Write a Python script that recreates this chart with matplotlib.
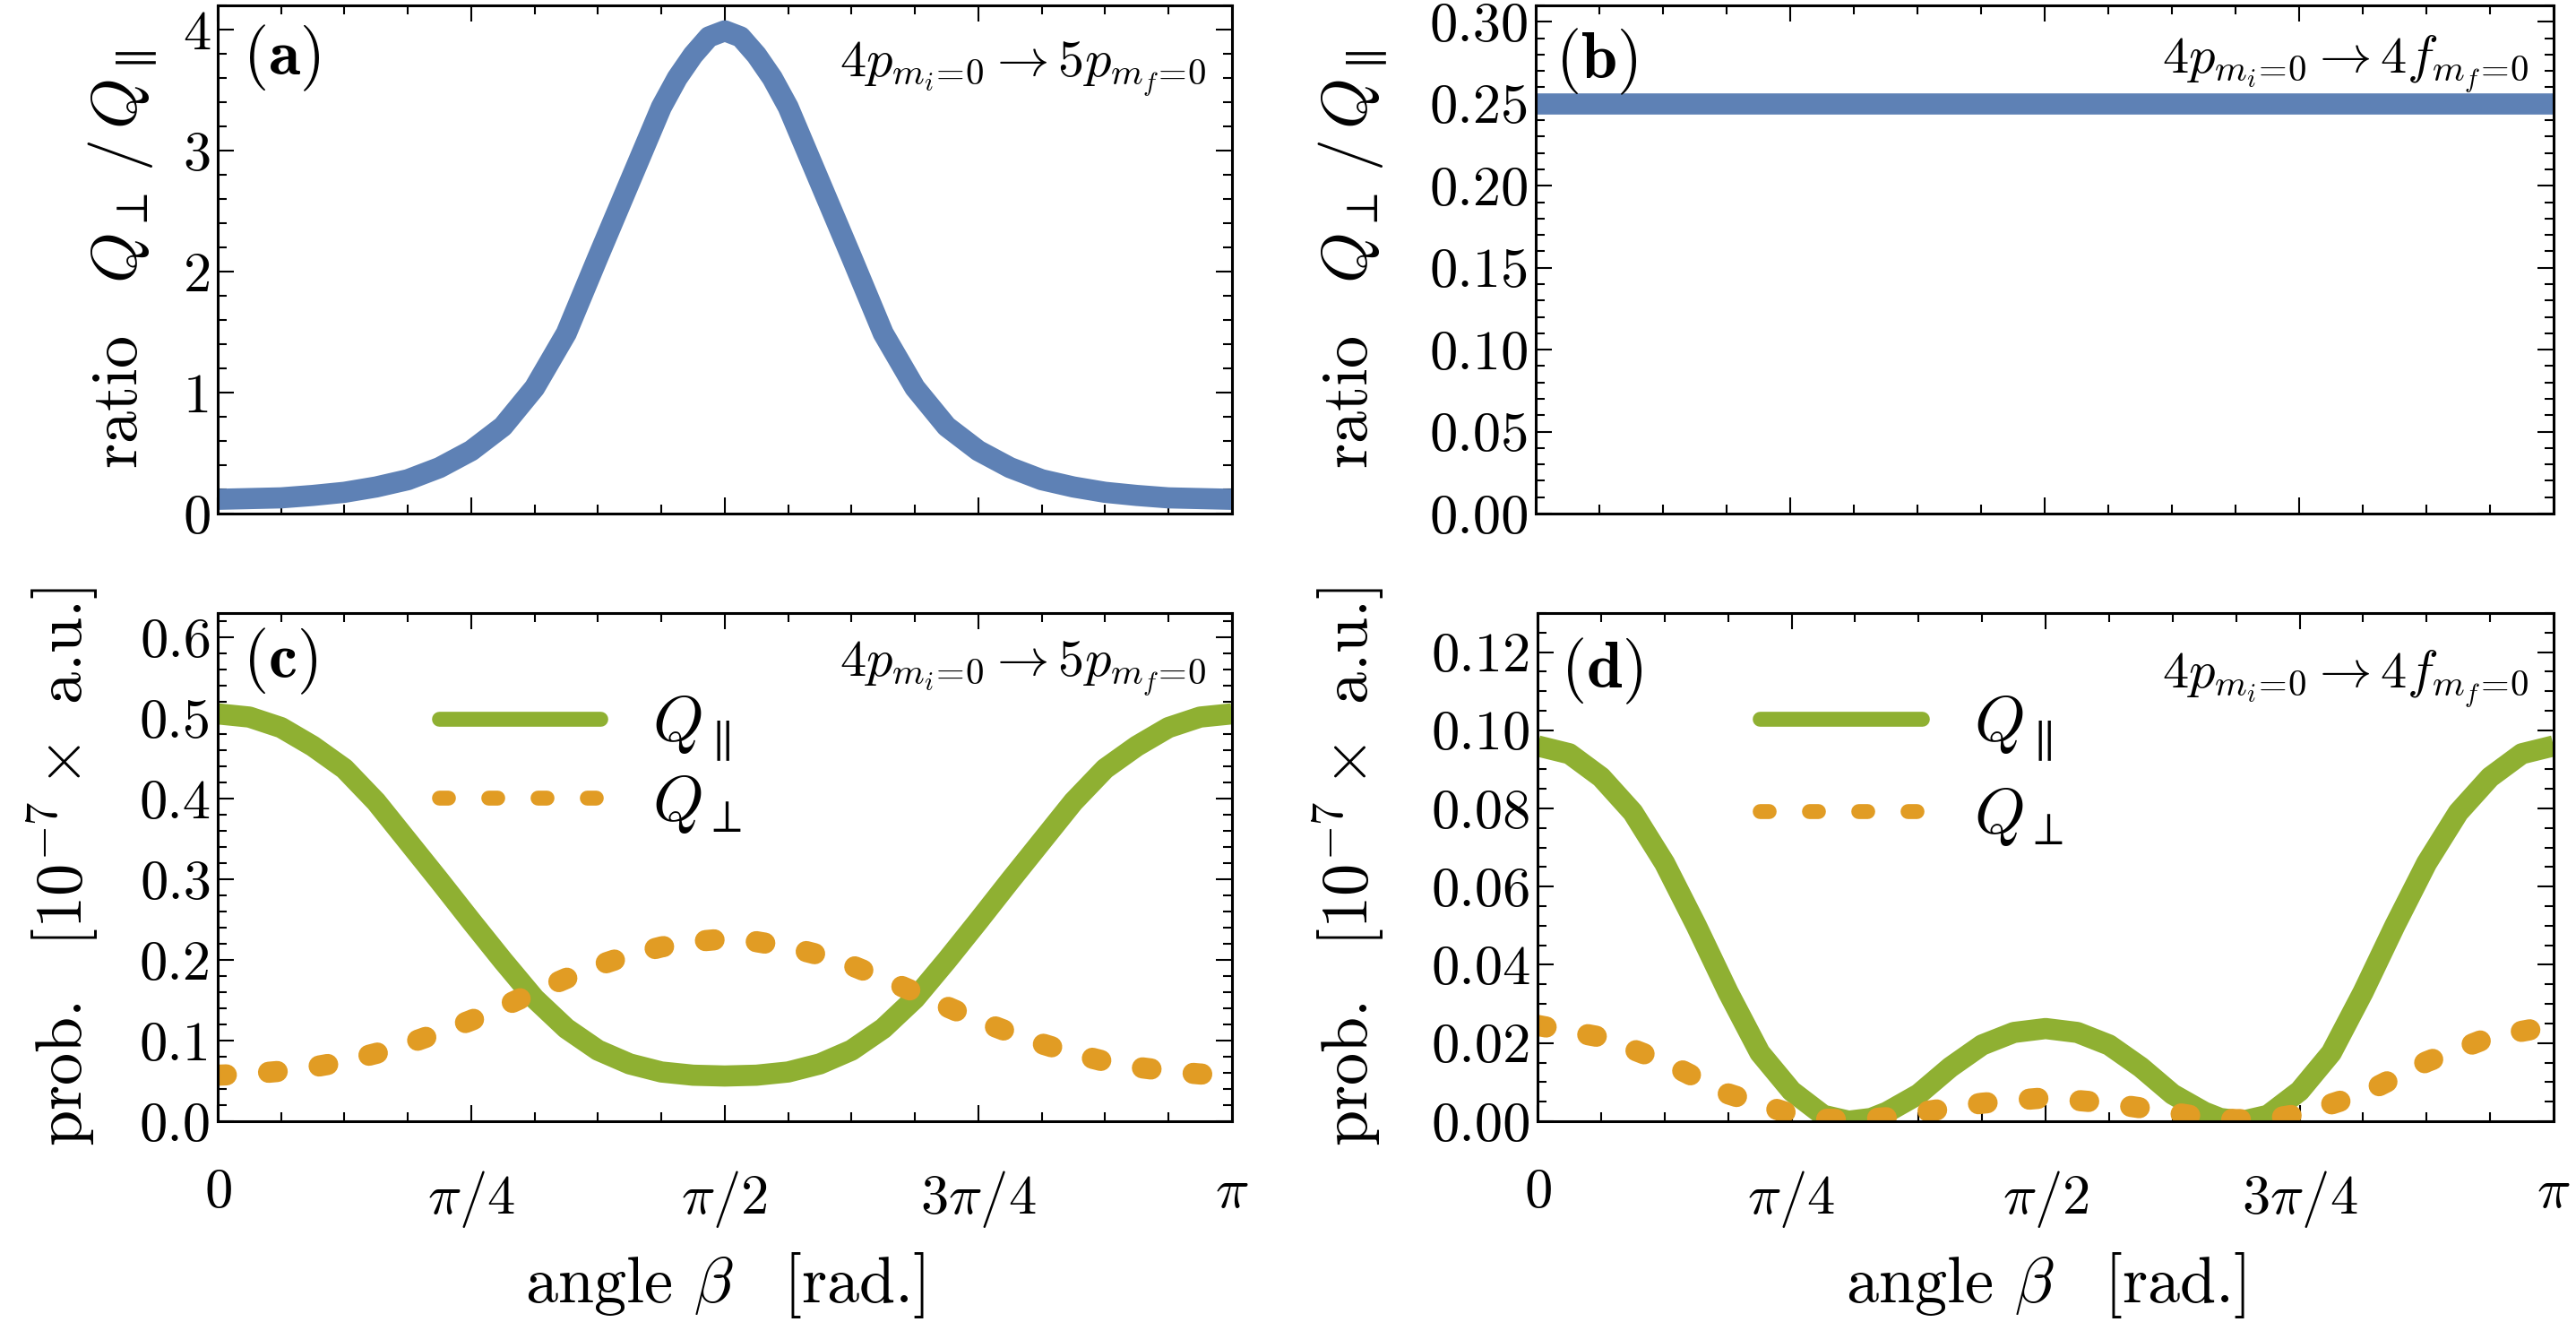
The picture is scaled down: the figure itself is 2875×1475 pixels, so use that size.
import numpy as np
import matplotlib.pyplot as plt
from matplotlib.lines import Line2D
from matplotlib.ticker import MultipleLocator, FixedLocator, FormatStrFormatter

plt.rcParams['font.family'] = 'serif'
plt.rcParams['font.serif'] = ['cmr10']
plt.rcParams['mathtext.fontset'] = 'cm'
plt.rcParams['axes.unicode_minus'] = False
plt.rcParams['axes.formatter.use_mathtext'] = True

BLUE = '#5E81B5'
ORANGE = '#E19C24'
GREEN = '#8FB032'

# angle beta in units of pi
# (a) ratio Q_perp / Q_par, 4p -> 5p
beta_a = [0, 1/16, 1.5/16, 2/16, 2.5/16, 3/16, 3.5/16, 4/16, 4.5/16, 5/16, 5.5/16,
          6/16, 6.5/16, 7/16, 7.25/16, 7.5/16, 7.75/16, 8/16,
          8.25/16, 8.5/16, 8.75/16, 9/16, 9.5/16, 10/16, 10.5/16, 11/16, 11.5/16,
          12/16, 12.5/16, 13/16, 13.5/16, 14/16, 14.5/16, 15/16, 1]
ratio_a = [0.118, 0.13, 0.15, 0.176, 0.22, 0.28, 0.38, 0.52, 0.72, 1.04, 1.49,
           2.12, 2.74, 3.36, 3.60, 3.79, 3.94, 3.99,
           3.94, 3.79, 3.60, 3.36, 2.74, 2.12, 1.49, 1.04, 0.72,
           0.52, 0.38, 0.28, 0.22, 0.176, 0.15, 0.13, 0.118]

# (b) ratio, 4p -> 4f
beta_b = [0, 1/4, 1/2, 3/4, 1]
ratio_b = [0.25, 0.25, 0.25, 0.25, 0.25]

# (c) probabilities, 4p -> 5p  [1e-7 a.u.]
beta_c = [0, 0.5/16, 1/16, 1.5/16, 2/16, 2.5/16, 3/16, 3.5/16, 4/16, 4.5/16,
          5/16, 5.5/16, 6/16, 6.5/16, 7/16, 7.5/16, 8/16,
          8.5/16, 9/16, 9.5/16, 10/16, 10.5/16, 11/16, 11.5/16, 12/16,
          12.5/16, 13/16, 13.5/16, 14/16, 14.5/16, 15/16, 15.5/16, 1]
q_par_c = [0.505, 0.501, 0.488, 0.465, 0.437, 0.396, 0.347, 0.298, 0.248, 0.199,
           0.152, 0.115, 0.088, 0.071, 0.061, 0.057, 0.056,
           0.057, 0.061, 0.071, 0.088, 0.115, 0.152, 0.199, 0.248,
           0.298, 0.347, 0.396, 0.437, 0.465, 0.488, 0.501, 0.505]
q_perp_c = [0.057, 0.0585, 0.062, 0.067, 0.074, 0.084, 0.096, 0.110, 0.125, 0.142,
            0.160, 0.177, 0.193, 0.206, 0.216, 0.2225, 0.226,
            0.2225, 0.216, 0.206, 0.193, 0.177, 0.160, 0.142, 0.125,
            0.110, 0.096, 0.084, 0.074, 0.067, 0.062, 0.0585, 0.057]

# (d) probabilities, 4p -> 4f  [1e-7 a.u.]
beta_d_par = [0, 0.5/16, 1/16, 1.5/16, 2/16, 2.5/16, 3/16, 3.5/16, 4/16, 4.5/16,
              4.9/16, 5.25/16, 5.5/16, 6/16, 6.5/16, 7/16, 7.5/16, 8/16,
              8.5/16, 9/16, 9.5/16, 10/16, 10.5/16, 10.75/16, 11.1/16, 11.5/16,
              12/16, 12.5/16, 13/16, 13.5/16, 14/16, 14.5/16, 15/16, 15.5/16, 1]
q_par_d = [0.096, 0.094, 0.088, 0.079, 0.066, 0.050, 0.033, 0.0175, 0.0077, 0.0015,
           0.0, 0.0007, 0.0023, 0.0069, 0.0138, 0.0195, 0.0227, 0.0237,
           0.0227, 0.0195, 0.0138, 0.0069, 0.0023, 0.0007, 0.0, 0.0015,
           0.0077, 0.0175, 0.033, 0.050, 0.066, 0.079, 0.088, 0.094, 0.096]
beta_d_perp = [0, 1/16, 2/16, 3/16, 4/16, 4.5/16, 5/16, 5.5/16, 6/16, 7/16, 8/16,
               9/16, 10/16, 10.5/16, 11/16, 11.5/16, 12/16, 13/16, 14/16, 15/16, 1]
q_perp_d = [0.0245, 0.0215, 0.0152, 0.007, 0.0018, 0.0005, 0.0004, 0.0009, 0.0022,
            0.0046, 0.006,
            0.0046, 0.0022, 0.0009, 0.0004, 0.0005, 0.0018, 0.007, 0.0152, 0.0215, 0.0245]

x_ticklabels = [r'$0$', r'$\pi/4$', r'$\pi/2$', r'$3\pi/4$', r'$\pi$']

LW = 17
DOTS = (0, (0.41, 2.0))
TICK_FS = 45
LABEL_FS = 52


def style_axes(ax, ylim, major, minor, fmt, show_x):
    ax.set_xlim(0, np.pi)
    ax.set_ylim(*ylim)
    ax.xaxis.set_major_locator(FixedLocator(np.pi * np.array([0, 0.25, 0.5, 0.75, 1])))
    ax.xaxis.set_minor_locator(MultipleLocator(np.pi / 16))
    ax.yaxis.set_major_locator(MultipleLocator(major))
    ax.yaxis.set_minor_locator(MultipleLocator(minor))
    ax.yaxis.set_major_formatter(FormatStrFormatter(fmt))
    if show_x:
        ax.set_xticklabels(x_ticklabels)
    else:
        ax.set_xticklabels([])
    ax.tick_params(which='both', direction='in', top=True, right=True,
                   width=1.5, labelsize=TICK_FS)
    ax.tick_params(which='major', length=13)
    ax.tick_params(which='minor', length=7.5)
    ax.tick_params(axis='y', pad=5)
    ax.tick_params(axis='x', pad=38)
    for s in ax.spines.values():
        s.set_linewidth(2.2)


fig = plt.figure(figsize=(28.75, 14.75), dpi=100)
ax_a = fig.add_axes([0.0845, 0.6115, 0.3937, 0.3844])
ax_b = fig.add_axes([0.5962, 0.6115, 0.3951, 0.3844])
ax_c = fig.add_axes([0.0845, 0.1519, 0.3937, 0.3844])
ax_d = fig.add_axes([0.5969, 0.1519, 0.3944, 0.3844])

# (a)
ax_a.plot(np.pi * np.array(beta_a), ratio_a, color=BLUE, lw=LW,
          solid_joinstyle='round', solid_capstyle='butt')
style_axes(ax_a, (0, 4.2), 1, 0.2, '%d', False)
ax_a.set_ylabel(r'ratio $\;\;Q_\perp\,/\,Q_\parallel$', fontsize=LABEL_FS)
ax_a.yaxis.set_label_coords(-0.057, 0.5)

# (b)
ax_b.plot(np.pi * np.array(beta_b), ratio_b, color=BLUE, lw=LW, solid_capstyle='butt')
style_axes(ax_b, (0, 0.31), 0.05, 0.01, '%.2f', False)
ax_b.set_ylabel(r'ratio $\;\;Q_\perp\,/\,Q_\parallel$', fontsize=LABEL_FS)
ax_b.yaxis.set_label_coords(-0.144, 0.5)

# (c)
ax_c.plot(np.pi * np.array(beta_c), q_par_c, color=GREEN, lw=LW,
          solid_joinstyle='round', solid_capstyle='butt')
ax_c.plot(np.pi * np.array(beta_c), q_perp_c, color=ORANGE, lw=LW,
          linestyle=DOTS, dash_capstyle='round', dash_joinstyle='round')
style_axes(ax_c, (0, 0.63), 0.1, 0.02, '%.1f', True)
ax_c.set_ylabel(r'prob. $\;\;[10^{-7}\times$ a.u.]', fontsize=LABEL_FS)
ax_c.yaxis.set_label_coords(-0.116, 0.5)

# (d)
ax_d.plot(np.pi * np.array(beta_d_par), q_par_d, color=GREEN, lw=LW,
          solid_joinstyle='round', solid_capstyle='butt')
ax_d.plot(np.pi * np.array(beta_d_perp), q_perp_d, color=ORANGE, lw=LW,
          linestyle=DOTS, dash_capstyle='round', dash_joinstyle='round')
style_axes(ax_d, (0, 0.13), 0.02, 0.005, '%.2f', True)
ax_d.set_ylabel(r'prob. $\;\;[10^{-7}\times$ a.u.]', fontsize=LABEL_FS)
ax_d.yaxis.set_label_coords(-0.149, 0.5)

for ax in (ax_c, ax_d):
    ax.set_xlabel(r'angle $\beta\;\;$ [rad.]', fontsize=LABEL_FS)
    ax.xaxis.set_label_coords(0.5, -0.254)

# legends
handles = [Line2D([], [], color=GREEN, lw=12, solid_capstyle='round'),
           Line2D([], [], color=ORANGE, lw=12, linestyle=(0, (0.6, 2.7)),
                  dash_capstyle='round')]
leg_labels = [r'$Q_\parallel$', r'$Q_\perp$']
for ax, x0, spacing in ((ax_c, 0.218, 0.15), (ax_d, 0.219, 0.35)):
    ax.legend(handles, leg_labels, loc='upper left', bbox_to_anchor=(x0, 0.84),
              frameon=False, fontsize=52, handlelength=2.5, handletextpad=0.8,
              borderpad=0, borderaxespad=0, labelspacing=spacing)

# panel tags and transitions
tags = [(ax_a, '(a)', 0.025, 0.965), (ax_b, '(b)', 0.019, 0.958),
        (ax_c, '(c)', 0.025, 0.974), (ax_d, '(d)', 0.023, 0.955)]
for ax, t, x, y in tags:
    ax.text(x, y, r'$\mathbf{' + t + '}$', transform=ax.transAxes,
            fontsize=52, ha='left', va='top')

trans = [(ax_a, r'$4p_{m_i\!=\!0} \rightarrow 5p_{m_f\!=\!0}$', 0.861),
         (ax_b, r'$4p_{m_i\!=\!0} \rightarrow 4f_{m_f\!=\!0}$', 0.868),
         (ax_c, r'$4p_{m_i\!=\!0} \rightarrow 5p_{m_f\!=\!0}$', 0.877),
         (ax_d, r'$4p_{m_i\!=\!0} \rightarrow 4f_{m_f\!=\!0}$', 0.854)]
for ax, t, y in trans:
    ax.text(0.975, y, t, transform=ax.transAxes, fontsize=42,
            ha='right', va='baseline')

fig.savefig('out.png', dpi=100)
